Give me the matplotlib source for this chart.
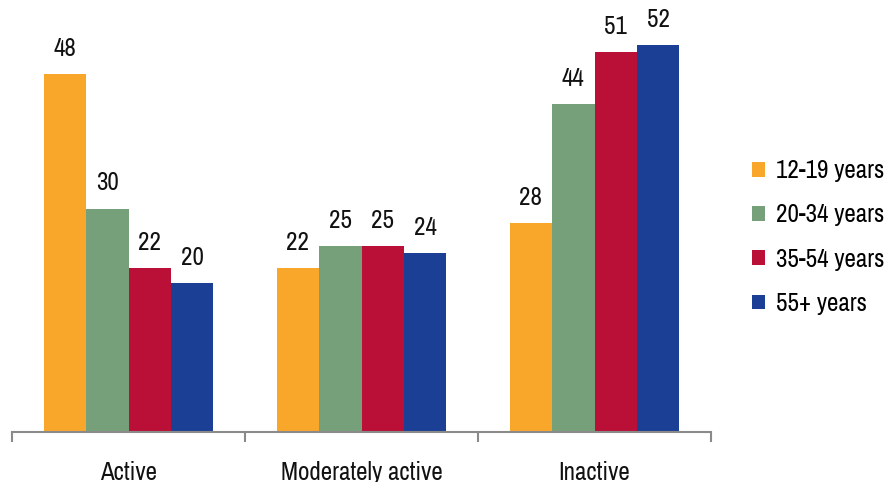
import matplotlib.pyplot as plt
import numpy as np
from matplotlib.patches import Patch

plt.rcParams['font.family'] = ['Archivo Narrow', 'DejaVu Sans']

# activity levels by age group (%)
categories = ['Active', 'Moderately active', 'Inactive']
age_groups = ['12-19 years', '20-34 years', '35-54 years', '55+ years']
age_12_19 = [48, 22, 28]
age_20_34 = [30, 25, 44]
age_35_54 = [22, 25, 51]
age_55_up = [20, 24, 52]
colors = ['#F9A72B', '#76A07A', '#BA0F37', '#1B3F94']

series = [age_12_19, age_20_34, age_35_54, age_55_up]

fig = plt.figure(figsize=(8.85, 4.82), dpi=100)
ax = fig.add_axes([12 / 885, 50 / 482, 699 / 885, 432 / 482])

x = np.arange(len(categories))
width = 0.1824
for i, (vals, col) in enumerate(zip(series, colors)):
    pos = x + (i - 1.5) * width
    bars = ax.bar(pos, vals, width, color=col, label=age_groups[i])
    for b, v in zip(bars, vals):
        ax.text(b.get_x() + b.get_width() / 2, v + 1.9, str(v),
                ha='center', va='bottom', fontsize=18, color='#111111')

ax.set_xlim(-0.5, 2.5)
ax.set_ylim(0, 58)
ax.set_xticks([-0.5, 0.5, 1.5, 2.5])
ax.set_xticklabels([])
ax.set_xticks(x, minor=True)
ax.set_xticklabels(categories, minor=True, fontsize=18, color='#111111')
ax.tick_params(axis='x', which='major', length=7, width=1.5, color='#8a8a8a', direction='out')
ax.tick_params(axis='x', which='minor', length=0, pad=21)
ax.set_yticks([])
for s in ['top', 'right', 'left']:
    ax.spines[s].set_visible(False)
ax.spines['bottom'].set_color('#8a8a8a')
ax.spines['bottom'].set_linewidth(1.5)

handles = [Patch(facecolor=c, label=l) for c, l in zip(colors, age_groups)]
fig.legend(handles=handles, loc='center left', bbox_to_anchor=(752 / 885, 1 - 237 / 482),
           frameon=False, fontsize=18, handlelength=0.52, handleheight=0.52,
           handletextpad=0.42, labelspacing=0.85, borderpad=0, borderaxespad=0)

fig.savefig('out.png', dpi=100)
